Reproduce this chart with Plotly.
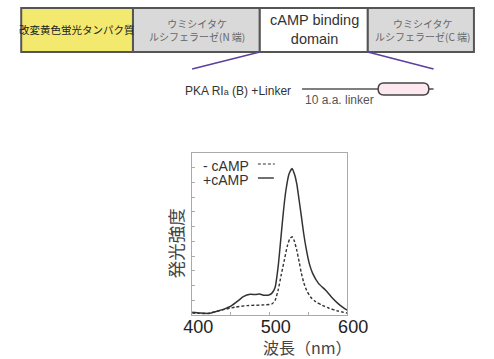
import plotly.graph_objects as go

# ---- data ----
wl_plus = [400, 410, 422, 430, 440, 450, 460, 466, 475, 482, 487, 493, 499, 503, 507, 511, 515, 518, 521,
           525, 529, 532, 535, 538, 541, 544, 547.5, 551, 555.5, 563, 572, 580, 588, 595, 600]
int_plus = [1.7, 1.2, 1.0, 2.0, 3.5, 5.5, 9.0, 11.3, 12.8, 12.6, 12.9, 12.2, 12.3, 13.5, 17, 30, 50, 65, 77,
            87, 90.5, 87, 81, 71, 60.7, 50, 40, 32, 25.7, 19.5, 15.4, 11, 7.2, 4.5, 3.0]
wl_minus = [400, 420, 438, 455, 471, 490, 503, 507, 511, 515, 519, 523, 526, 529, 532, 535, 538, 541, 544,
            547.5, 553, 559.5, 568, 576, 588, 600]
int_minus = [1.2, 1.0, 3.0, 4.8, 5.8, 6.2, 6.8, 9.0, 15.4, 25, 34, 43, 47, 48.3, 45.5, 40, 33, 25.7, 20,
             15.4, 11, 8.2, 6.0, 4.3, 2.5, 1.2]
x_ticks = [400, 500, 600]
legend_labels = ["- cAMP", "+cAMP"]
box_labels = ["改変黄色蛍光タンパク質", "ウミシイタケ<br>ルシフェラーゼ(N 端)", "cAMP binding<br>domain",
              "ウミシイタケ<br>ルシフェラーゼ(C 端)"]

W, H = 494, 359
def px(x): return x / W
def py(y): return 1 - y / H

JP = "Noto Sans CJK JP"
LAT = "Liberation Sans, Arial, sans-serif"

fig = go.Figure()
fig.add_trace(go.Scatter(x=wl_minus, y=int_minus, mode="lines", line=dict(color="#333", width=1.4, dash="3px,2px", shape="spline", smoothing=0.6), showlegend=False))
fig.add_trace(go.Scatter(x=wl_plus, y=int_plus, mode="lines", line=dict(color="#333", width=1.5, shape="spline", smoothing=0.6), showlegend=False))

shapes = []
annotations = []
# top construct boxes
boxes = [(13, 132, "#f3e96f"), (132, 267, "#d9d9d9"), (267, 382, "#ffffff"), (382, 495, "#d9d9d9")]
for x0, x1, c in boxes:
    shapes.append(dict(type="rect", xref="paper", yref="paper", x0=px(x0), x1=px(x1), y0=py(52), y1=py(8),
                       fillcolor=c, line=dict(color="#555", width=2), layer="above"))
centers = [(72, 10.5, "#222", JP), (200, 10, "#666", JP), (325, 14.5, "#333", LAT), (440, 10, "#666", JP)]
for (cx, fs, col, fam), lab in zip(centers, box_labels):
    annotations.append(dict(xref="paper", yref="paper", x=px(cx), y=py(30), text=lab, showarrow=False,
                            font=dict(size=fs, color=col, family=fam), xanchor="center", yanchor="middle"))
# purple connector lines
shapes.append(dict(type="line", xref="paper", yref="paper", x0=px(267), y0=py(52), x1=px(195), y1=py(69),
                   line=dict(color="#5a3fa0", width=1.5)))
shapes.append(dict(type="line", xref="paper", yref="paper", x0=px(382), y0=py(52), x1=px(452), y1=py(69),
                   line=dict(color="#5a3fa0", width=1.5)))
# linker diagram
annotations.append(dict(xref="paper", yref="paper", x=px(185), y=py(91), text="PKA RI<span style='font-size:9px'>a</span> (B) +Linker",
                        showarrow=False, font=dict(size=12, color="#333", family=LAT), xanchor="left", yanchor="middle"))
shapes.append(dict(type="line", xref="paper", yref="paper", x0=px(312), y0=py(89), x1=px(394), y1=py(89),
                   line=dict(color="#555", width=1.6)))
shapes.append(dict(type="line", xref="paper", yref="paper", x0=px(446), y0=py(89), x1=px(452), y1=py(89),
                   line=dict(color="#555", width=1.6)))
shapes.append(dict(type="path", xref="paper", yref="paper",
                   path=f"M {px(399)},{py(83)} L {px(441)},{py(83)} Q {px(447)},{py(83)} {px(447)},{py(89)} Q {px(447)},{py(95)} {px(441)},{py(95)} L {px(399)},{py(95)} Q {px(393)},{py(95)} {px(393)},{py(89)} Q {px(393)},{py(83)} {px(399)},{py(83)} Z",
                   fillcolor="#fce8ee", line=dict(color="#444", width=1.5)))
annotations.append(dict(xref="paper", yref="paper", x=px(313), y=py(100), text="10 a.a. linker", showarrow=False,
                        font=dict(size=12, color="#555", family=LAT), xanchor="left", yanchor="middle"))

# in-chart legend
annotations.append(dict(xref="paper", yref="paper", x=px(204), y=py(166), text=legend_labels[0], showarrow=False,
                        font=dict(size=14, color="#333", family=LAT), xanchor="left", yanchor="middle"))
annotations.append(dict(xref="paper", yref="paper", x=px(204), y=py(180), text=legend_labels[1], showarrow=False,
                        font=dict(size=14, color="#333", family=LAT), xanchor="left", yanchor="middle"))
shapes.append(dict(type="line", xref="paper", yref="paper", x0=px(265), y0=py(164), x1=px(283), y1=py(164),
                   line=dict(color="#333", width=1.2, dash="3px,2px")))
shapes.append(dict(type="line", xref="paper", yref="paper", x0=px(265), y0=py(178), x1=px(282), y1=py(178),
                   line=dict(color="#333", width=1.4)))

# axis titles
annotations.append(dict(xref="paper", yref="paper", x=px(177), y=py(243), text="発光強度", textangle=-90, showarrow=False,
                        font=dict(size=17.5, color="#444", family=JP), xanchor="center", yanchor="middle"))
annotations.append(dict(xref="paper", yref="paper", x=px(318), y=py(347), text="波長（nm）", showarrow=False,
                        font=dict(size=16, color="#444", family=JP), xanchor="center", yanchor="middle"))

fig.update_layout(
    width=W, height=H, margin=dict(l=0, r=0, t=0, b=0), autosize=False,
    paper_bgcolor="white", plot_bgcolor="white",
    shapes=shapes, annotations=annotations,
    xaxis=dict(domain=[px(195), px(360)], range=[400, 600], tickvals=x_ticks, ticktext=[str(t) for t in x_ticks],
               showgrid=False, zeroline=False, showline=True, linecolor="#aaa", linewidth=1, mirror=True,
               ticks="inside", ticklen=3, tickcolor="#aaa", minor=dict(ticks="inside", dtick=50, ticklen=3, tickcolor="#aaa"),
               ticklabelshift=6, ticklabelstandoff=-5,
               tickfont=dict(size=18, color="#222", family=LAT)),
    yaxis=dict(domain=[py(315), py(153)], range=[0, 100], dtick=100 / 11, showticklabels=False,
               showgrid=False, zeroline=False, showline=True, linecolor="#aaa", linewidth=1, mirror=True,
               ticks="inside", ticklen=3, tickcolor="#aaa"),
)
post = ("document.body.style.margin='0';document.body.style.padding='0';"
        "document.body.style.overflow='hidden';document.documentElement.style.overflow='hidden';")
fig.write_html("out.html", config={"responsive": False, "displayModeBar": False}, post_script=post)
